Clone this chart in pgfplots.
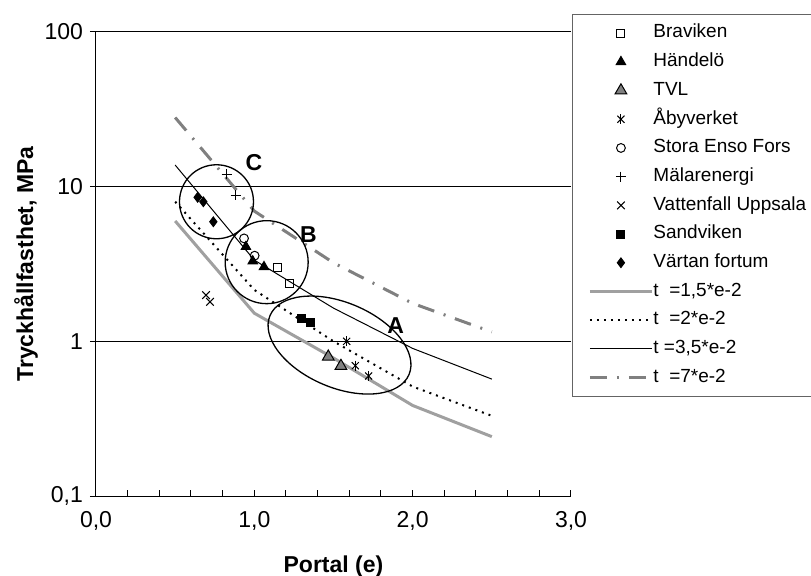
\documentclass[border=0pt]{standalone}
\usepackage{pgfplots}
\pgfplotsset{compat=1.18}
\usepackage{fontspec}
\setmainfont{Liberation Sans}
\usetikzlibrary{shapes.geometric,calc}
\definecolor{lgray}{RGB}{160,160,160}
\definecolor{mgray}{RGB}{128,128,128}
\definecolor{lgbord}{RGB}{100,100,100}
\begin{document}
\begin{tikzpicture}
\begin{axis}[
  scale only axis, width=237.5pt, height=232pt,
  xmin=0, xmax=3, ymode=log, ymin=0.1, ymax=100,
  axis x line*=bottom, axis y line*=left,
  xtick={0,1,2,3}, xticklabels={{0,0},{1,0},{2,0},{3,0}},
  minor x tick num=4,
  ytick={0.1,1,10,100}, yticklabels={{0,1},1,10,100},
  yminorticks=false,
  ymajorgrids, grid style={black, line width=0.5pt},
  axis line style={black, line width=0.5pt},
  tick style={black, line width=0.5pt},
  major tick length=3pt, minor tick length=3pt,
  xtick align=inside, ytick align=outside,
  /pgf/number format/assume math mode=true,
  tick label style={font=\fontsize{11.5}{13.8}\selectfont},
  xticklabel style={yshift=-4pt},
  xlabel={Portal (e)}, ylabel={Tryckhållfasthet, MPa},
  every axis x label/.style={at={(axis description cs:0.5,-0.151)}, anchor=center, font=\bfseries\fontsize{11.5}{13.8}\selectfont},
  every axis y label/.style={at={(axis description cs:-0.1474,0.5)}, anchor=center, rotate=90, font=\bfseries\fontsize{11.5}{13.8}\selectfont},
  legend style={at={(1.002,1.039)}, anchor=north west, draw=lgbord, line width=0.5pt, fill=white,
    font=\fontsize{9.5}{11}\selectfont, inner xsep=8pt, inner ysep=5pt, row sep=5.6pt,
    nodes={inner sep=0pt, text height=6.75pt, text depth=2pt},
    /tikz/every even column/.append style={column sep=3.2pt}},
  legend cell align=left,
  legend image code/.code={\draw[mark repeat=2,mark phase=2,#1] plot coordinates {(0pt,0pt) (15.5pt,0pt) (31pt,0pt)};},
]
\coordinate (O) at (rel axis cs:0,0);
\addplot[only marks, black, mark=square, mark size=2pt, mark options={fill=white, line width=0.5pt}]
  coordinates {(1.148,2.99) (1.219,2.35)};
\addlegendentry{Braviken}
\addplot[only marks, black, mark=triangle*, mark size=2.7pt, mark options={line width=0.5pt}]
  coordinates {(0.947,4.09) (0.990,3.30) (1.061,3.03)};
\addlegendentry{Händelö}
\addplot[only marks, black, mark=triangle*, mark size=3.4pt, mark options={fill=mgray, draw=black, line width=0.5pt}]
  coordinates {(1.467,0.795) (1.547,0.692)};
\addlegendentry{TVL}
\addplot[only marks, black, mark=x, mark size=2.5pt, mark options={line width=0.5pt},
  legend image code/.code={
    \draw[only marks, black, mark=x, mark size=2.5pt, line width=0.5pt] plot coordinates {(15.5pt,0pt)};
    \draw[only marks, black, mark=|, mark size=2.5pt, line width=0.5pt] plot coordinates {(15.5pt,0pt)};}]
  coordinates {(1.583,1.00) (1.638,0.696) (1.722,0.597)};
\addlegendentry{Åbyverket}
\addplot[only marks, black, mark=|, mark size=2.5pt, mark options={line width=0.5pt}, forget plot]
  coordinates {(1.583,1.00) (1.638,0.696) (1.722,0.597)};
\addplot[only marks, black, mark=o, mark size=2.2pt, mark options={fill=white, line width=0.5pt}]
  coordinates {(0.935,4.63) (1.002,3.58)};
\addlegendentry{Stora Enso Fors}
\addplot[only marks, black, mark=+, mark size=2.5pt, mark options={line width=0.5pt}]
  coordinates {(0.825,12.0) (0.882,8.83)};
\addlegendentry{Mälarenergi}
\addplot[only marks, black, mark=x, mark size=2.7pt, mark options={line width=0.5pt}]
  coordinates {(0.695,1.99) (0.720,1.80)};
\addlegendentry{Vattenfall Uppsala}
\addplot[only marks, black, mark=square*, mark size=2pt, mark options={line width=0.5pt}]
  coordinates {(1.299,1.41) (1.352,1.32)};
\addlegendentry{Sandviken}
\addplot[only marks, black, mark=diamond*, mark size=2.4pt, mark options={line width=0.5pt}]
  coordinates {(0.642,8.53) (0.678,7.99) (0.741,5.93)};
\addlegendentry{Värtan fortum}
\addplot[lgray, line width=1.5pt, mark=none]
  coordinates {(0.5,6.0) (1.0,1.52) (1.5,0.78) (2.0,0.385) (2.5,0.242)};
\addlegendentry{t\ \ =1,5*e-2}
\addplot[black, line width=1pt, dash pattern=on 1pt off 2.5pt, mark=none]
  coordinates {(0.5,8.0) (1.0,2.15) (1.5,1.0) (2.0,0.51) (2.5,0.33)};
\addlegendentry{t\ \ =2*e-2}
\addplot[black, line width=0.5pt, mark=none]
  coordinates {(0.5,13.8) (1.0,3.35) (1.5,1.64) (2.0,0.90) (2.5,0.57)};
\addlegendentry{t\ =3,5*e-2}
\addplot[mgray, line width=1.5pt, dash pattern=on 8.5pt off 5pt on 1pt off 5pt, mark=none]
  coordinates {(0.5,28) (1.0,6.95) (1.5,3.22) (2.0,1.76) (2.5,1.15)};
\addlegendentry{t\ \ =7*e-2}
\node[draw, circle, minimum size=37pt, inner sep=0pt, line width=0.65pt] at (axis cs:0.761,7.99) {};
\node[draw, circle, minimum size=41.5pt, inner sep=0pt, line width=0.65pt] at (axis cs:1.078,3.25) {};
\node[draw, ellipse, minimum width=75.5pt, minimum height=42.5pt, inner sep=0pt, rotate=-23, line width=0.65pt] at (axis cs:1.538,0.946) {};
\node[font=\bfseries\fontsize{11.5}{13.8}\selectfont] at (axis cs:0.998,14.3) {C};
\node[font=\bfseries\fontsize{11.5}{13.8}\selectfont] at (axis cs:1.341,4.87) {B};
\node[font=\bfseries\fontsize{11.5}{13.8}\selectfont] at (axis cs:1.893,1.27) {A};
\end{axis}
\pgfresetboundingbox
\path[use as bounding box] ($(O)+(-48pt,-39.5pt)$) rectangle ++(405.5pt,287.5pt);
\end{tikzpicture}
\end{document}
